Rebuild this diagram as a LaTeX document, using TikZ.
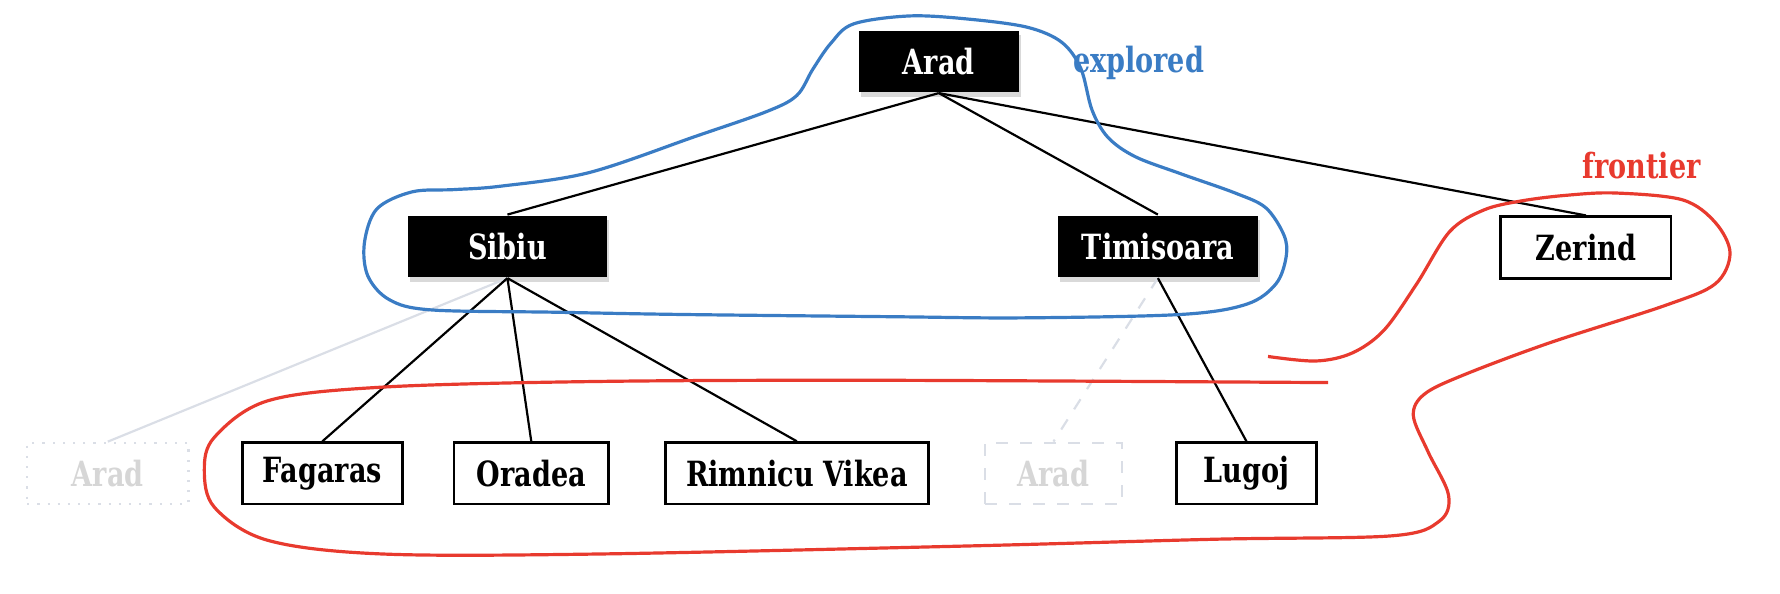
\documentclass[tikz,border=0pt]{standalone}
\usepackage{fontspec}
\setmainfont{DejaVu Serif}[FakeStretch=0.78]
\usetikzlibrary{positioning}
\usetikzlibrary{shadows}
\definecolor{exploredblue}{RGB}{58,124,196}
\definecolor{frontierred}{RGB}{232,58,46}
\definecolor{ghostline}{RGB}{218,222,230}
\definecolor{ghosttext}{RGB}{214,214,214}
\tikzset{
	every node/.style={align=center,font=\bfseries\fontsize{8.7}{10}\selectfont},
	every path/.style={line width=0.55pt},
	done/.style={rectangle, fill=black, text=white, minimum height=0.54cm, inner sep=0pt,
		drop shadow={shadow xshift=0.5pt, shadow yshift=-1.2pt, opacity=0.3}},
	open/.style={rectangle, draw, minimum height=0.54cm, inner sep=0pt, line width=0.7pt},
	ghost/.style={rectangle, draw=ghostline, text=ghosttext, minimum height=0.54cm, inner sep=0pt},
	fade/.style={draw=ghostline},
	explored/.style={draw=exploredblue, line width=0.8pt},
	frontier/.style={draw=frontierred, line width=0.8pt}
}

\begin{document}
\begin{tikzpicture}[x=0.01cm, y=-0.01cm]
	\useasboundingbox (0,0) rectangle (1568,523);

	\node[done, minimum width=1.41cm] (a) at (827,54) {Arad};
	\node[done, minimum width=1.75cm] (s) at (447,217) {Sibiu};
	\node[done, minimum width=1.76cm] (t) at (1020,217) {Timisoara};
	\node[open, minimum width=1.50cm] (z) at (1397,218) {Zerind};

	\node[ghost, dotted, minimum width=1.42cm] (as) at (95,417) {Arad};
	\node[open, minimum width=1.41cm] (f) at (284,417) {Fagaras};
	\node[open, minimum width=1.36cm] (o) at (468,417) {Oradea};
	\node[open, minimum width=2.31cm] (r) at (702,417) {Rimnicu Vikea};
	\node[ghost, dashed, minimum width=1.20cm] (at) at (928,417) {Arad};
	\node[open, minimum width=1.23cm] (l) at (1098,417) {Lugoj};

	\path (a.south) edge (s.north);
	\path (a.south) edge (t.north);
	\path (a.south) edge (z.north);
	\path (s.south) edge[fade] (as.north);
	\path (s.south) edge (f.north);
	\path (s.south) edge (o.north);
	\path (s.south) edge (r.north);
	\path (t.south) edge[fade, dashed] (at.north);
	\path (t.south) edge (l.north);

	% explored set
	\draw[explored] plot[smooth cycle, tension=0.55] coordinates {
		(802,14) (855,17) (905,24) (935,37) (952,60) (962,97) (976,121) (1000,138)
		(1040,153) (1088,170) (1115,183) (1131,207) (1133,226) (1124,250) (1098,268)
		(1040,277) (900,280) (788,279) (600,277) (488,275) (380,273) (343,264)
		(324,243) (321,214) (332,184) (363,169) (400,167) (441,164) (519,152)
		(613,120) (676,98) (702,84) (716,61) (732,38) (752,21)};
	\node[text=exploredblue] (explored) at (1003,55) {explored};

	% frontier
	\draw[frontier] plot[smooth, tension=0.55] coordinates {
		(1117,314) (1159,318) (1191,311) (1219,291) (1248,250) (1277,204) (1307,185)
		(1340,177) (1380,172) (1423,170) (1482,176) (1511,196) (1524,223) (1511,250)
		(1467,269) (1365,302) (1290,330) (1255,347) (1245,366) (1258,398) (1276,436)
		(1268,459) (1226,472) (1070,475) (850,481) (528,488) (337,488)
		(236,476) (189,447) (180,414) (189,385) (236,353) (337,341)
		(528,336) (783,335) (1170,337)};
	\node[text=frontierred] (frontier) at (1446,146) {frontier};
\end{tikzpicture}
\end{document}
